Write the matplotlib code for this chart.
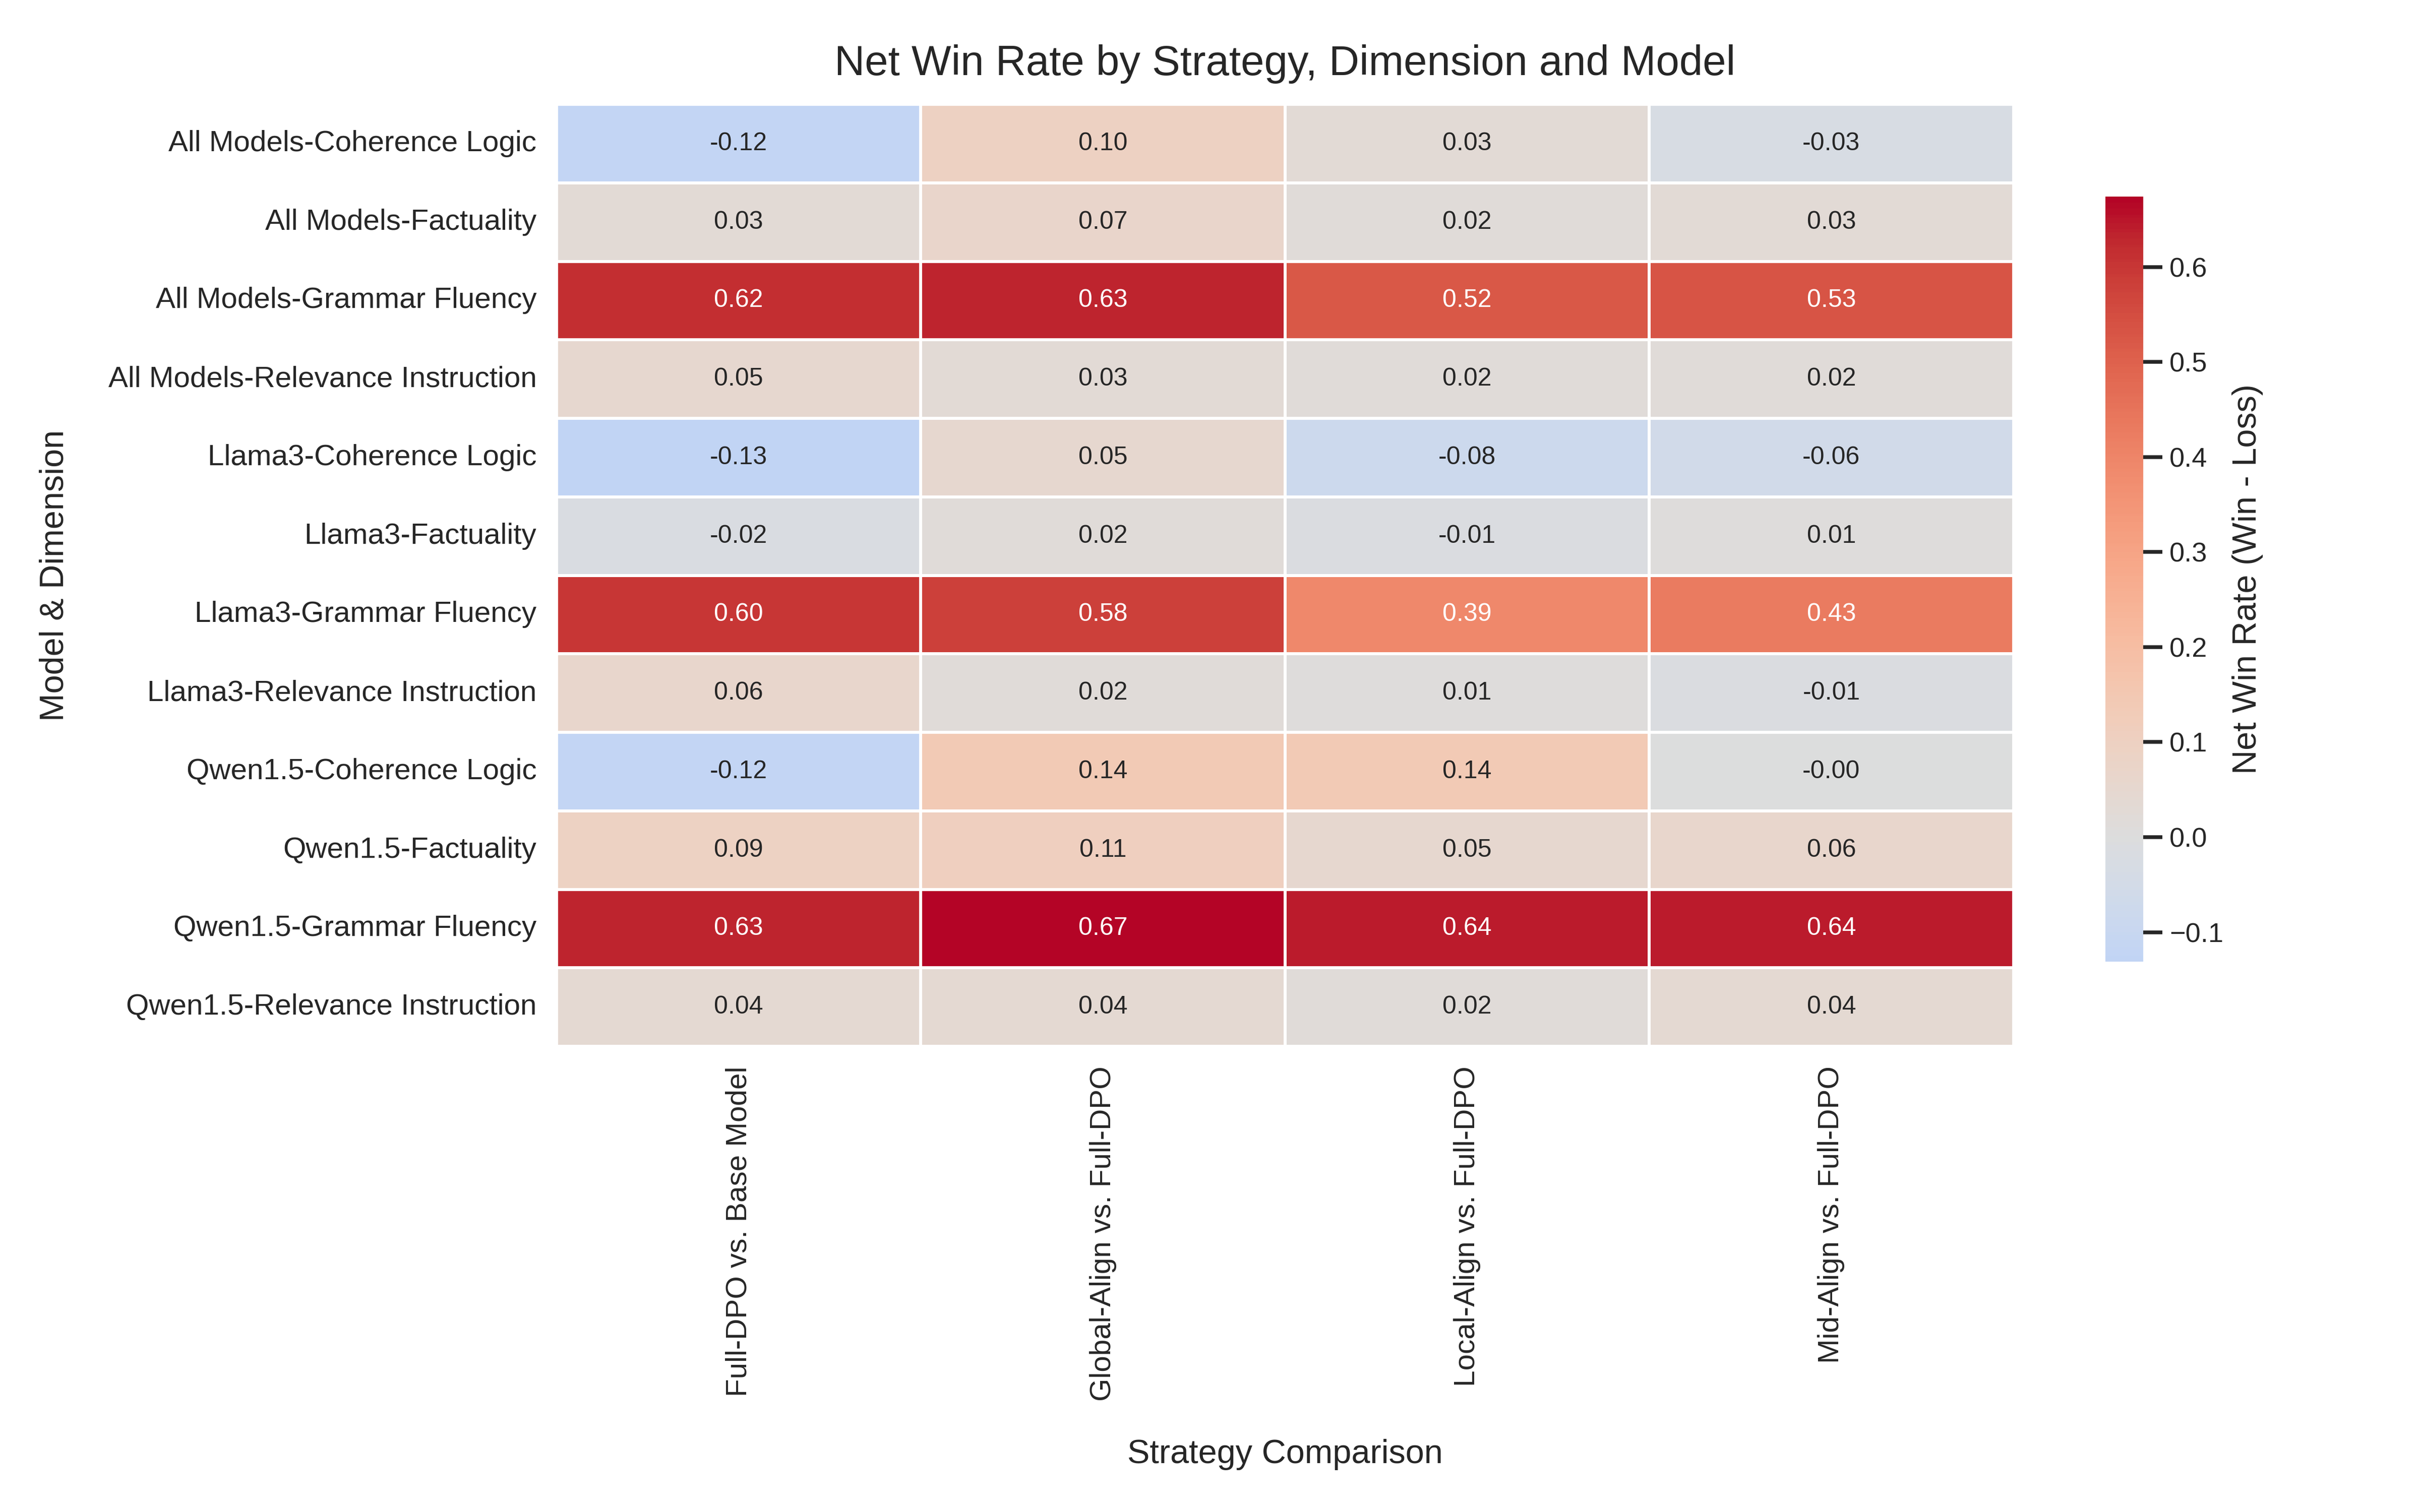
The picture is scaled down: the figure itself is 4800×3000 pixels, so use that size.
import numpy as np
import pandas as pd
import seaborn as sns
from matplotlib import pyplot as plt

# rows: model-dimension, columns: strategy comparisons
row_labels = [
    "All Models-Coherence Logic",
    "All Models-Factuality",
    "All Models-Grammar Fluency",
    "All Models-Relevance Instruction",
    "Llama3-Coherence Logic",
    "Llama3-Factuality",
    "Llama3-Grammar Fluency",
    "Llama3-Relevance Instruction",
    "Qwen1.5-Coherence Logic",
    "Qwen1.5-Factuality",
    "Qwen1.5-Grammar Fluency",
    "Qwen1.5-Relevance Instruction",
]
strategies = [
    "Full-DPO vs. Base Model",
    "Global-Align vs. Full-DPO",
    "Local-Align vs. Full-DPO",
    "Mid-Align vs. Full-DPO",
]

full_dpo_vs_base = [-0.12, 0.03, 0.62, 0.05, -0.131, -0.02, 0.60, 0.06, -0.12, 0.09, 0.63, 0.04]
global_vs_full = [0.10, 0.07, 0.63, 0.03, 0.05, 0.02, 0.58, 0.02, 0.14, 0.11, 0.674, 0.04]
local_vs_full = [0.03, 0.02, 0.52, 0.02, -0.08, -0.01, 0.39, 0.01, 0.14, 0.05, 0.64, 0.02]
mid_vs_full = [-0.03, 0.03, 0.53, 0.02, -0.06, 0.01, 0.43, -0.01, -0.004, 0.06, 0.64, 0.04]

df = pd.DataFrame(
    np.column_stack([full_dpo_vs_base, global_vs_full, local_vs_full, mid_vs_full]),
    index=row_labels, columns=strategies,
)

sns.set_theme(style="white")
plt.rcParams["font.family"] = ["Liberation Sans", "DejaVu Sans"]
text_color = "#262626"

fig = plt.figure(figsize=(16, 10), dpi=300)
ax = fig.add_axes([0.230, 0.308, 0.602, 0.623])
cax = fig.add_axes([0.870, 0.364, 0.0156, 0.506])

sns.heatmap(df, ax=ax, cbar_ax=cax, cmap="coolwarm", center=0,
            annot=True, fmt=".2f", annot_kws={"size": 12},
            linewidths=1, linecolor="white",
            cbar_kws={"label": "Net Win Rate (Win - Loss)"})

ax.set_title("Net Win Rate by Strategy, Dimension and Model", fontsize=20, color=text_color, pad=14)
ax.set_xlabel("Strategy Comparison", fontsize=16, color=text_color, labelpad=18)
ax.set_ylabel("Model & Dimension", fontsize=16, color=text_color, labelpad=18)
# ticks hidden by the style, but keep their length so labels sit off the cells
ax.tick_params(axis="x", labelsize=14, rotation=90, colors=text_color)
ax.tick_params(axis="y", labelsize=14, rotation=0, colors=text_color)

cax.tick_params(labelsize=13, length=9, width=1.8, right=True, colors=text_color)
cax.yaxis.label.set_size(16)
cax.yaxis.label.set_color(text_color)

plt.savefig("out.png")
plt.close(fig)
